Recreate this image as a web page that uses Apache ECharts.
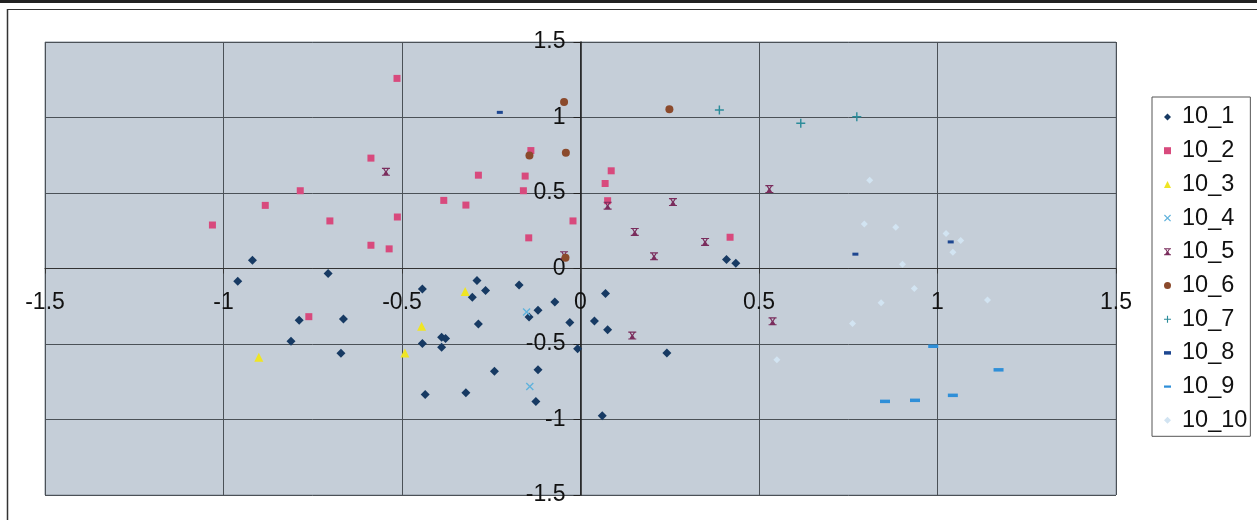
<!DOCTYPE html>
<html>
<head>
<meta charset="utf-8">
<script src="https://cdn.jsdelivr.net/npm/echarts@6/dist/echarts.min.js"></script>
<style>
html,body{margin:0;padding:0;background:#fff;}
#chart{width:1257px;height:520px;}
</style>
</head>
<body>
<div id="chart"></div>
<script>
const seriesNames = ['10_1','10_2','10_3','10_4','10_5','10_6','10_7','10_8','10_9','10_10'];
const axisTicks = [-1.5,-1,-0.5,0,0.5,1,1.5];

const s10_1 = [[-0.919,0.055],[-0.960,-0.084],[-0.707,-0.033],[-0.788,-0.343],[-0.664,-0.334],[-0.811,-0.482],[-0.671,-0.561],[-0.443,-0.136],[-0.290,-0.079],[-0.266,-0.145],[-0.303,-0.191],[-0.286,-0.367],[-0.389,-0.455],[-0.378,-0.464],[-0.443,-0.497],[-0.389,-0.521],[-0.241,-0.680],[-0.435,-0.834],[-0.321,-0.823],[-0.172,-0.110],[-0.072,-0.222],[-0.119,-0.277],[-0.144,-0.321],[-0.030,-0.358],[0.070,-0.165],[0.039,-0.348],[0.076,-0.405],[-0.008,-0.532],[0.242,-0.559],[-0.119,-0.671],[-0.125,-0.880],[0.061,-0.975],[0.409,0.059],[0.435,0.035]];
const s10_2 = [[-0.514,1.259],[-0.587,0.731],[-0.286,0.618],[-0.785,0.515],[-0.883,0.418],[-0.383,0.451],[-0.321,0.420],[-1.031,0.288],[-0.702,0.315],[-0.513,0.341],[-0.587,0.154],[-0.536,0.130],[-0.761,-0.319],[-0.139,0.781],[-0.155,0.612],[-0.160,0.515],[-0.021,0.315],[-0.145,0.203],[0.086,0.647],[0.069,0.563],[0.076,0.449],[0.419,0.207]];
const s10_3 = [[-0.901,-0.587],[-0.445,-0.383],[-0.492,-0.559],[-0.323,-0.152]];
const s10_4 = [[-0.151,-0.288],[-0.142,-0.781]];
const s10_5 = [[-0.545,0.640],[0.076,0.416],[0.259,0.440],[0.152,0.242],[0.349,0.176],[0.206,0.081],[-0.046,0.088],[0.529,0.526],[0.145,-0.444],[0.538,-0.350]];
const s10_6 = [[-0.046,1.102],[0.249,1.054],[-0.143,0.748],[-0.041,0.766],[-0.042,0.071]];
const s10_7 = [[0.389,1.050],[0.617,0.962],[0.774,1.005]];
const s10_8 = [[-0.226,1.034],[1.037,0.176],[0.770,0.095]];
const s10_9 = [[0.988,-0.515],[1.171,-0.671],[1.043,-0.840],[0.937,-0.873],[0.853,-0.880]];
const s10_10 = [[0.810,0.585],[0.795,0.295],[0.883,0.273],[1.024,0.231],[1.065,0.185],[1.043,0.108],[0.902,0.028],[0.935,-0.132],[0.842,-0.226],[1.140,-0.209],[0.762,-0.365],[0.550,-0.605]];

const seriesData = [s10_1,s10_2,s10_3,s10_4,s10_5,s10_6,s10_7,s10_8,s10_9,s10_10];

const X_PATH = 'path://M0,1.2L1.2,0L5,3.8L8.8,0L10,1.2L6.2,5L10,8.8L8.8,10L5,6.2L1.2,10L0,8.8L3.8,5Z';
const XBAR_PATH = 'path://M0,0H10V1.4H8.4L6.2,5L8.4,8.6H10V10H0V8.6H1.6L3.8,5L1.6,1.4H0Z M3.3,1.4L5,4.1L6.7,1.4Z M3.3,8.6L5,5.9L6.7,8.6Z';
const PLUS_PATH = 'path://M4.2,0H5.8V4.2H10V5.8H5.8V10H4.2V5.8H0V4.2H4.2Z';
const DASH_S = 'path://M0,0H6V3H0Z';
const DASH_L = 'path://M0,0H10V3.2H0Z';

const styles = [
  {symbol:'diamond', size:9, color:'#173a63'},
  {symbol:'rect', size:7, color:'#d84a7d'},
  {symbol:'triangle', size:9, color:'#efe524'},
  {symbol:X_PATH, size:8, color:'#5fb2dc'},
  {symbol:XBAR_PATH, size:8, color:'#7a2c5c'},
  {symbol:'circle', size:8, color:'#8b4a2c'},
  {symbol:PLUS_PATH, size:9, color:'#2c8c9a'},
  {symbol:'rect', size:[6,3], color:'#1d4690', icon:DASH_S},
  {symbol:'rect', size:[10,3.5], color:'#2f8fd8', icon:DASH_L},
  {symbol:'diamond', size:7, color:'#d2e4f2'}
];

const series = seriesNames.map((name,i)=>({
  name: name,
  type: 'scatter',
  data: seriesData[i],
  symbol: styles[i].symbol,
  symbolSize: styles[i].size,
  symbolKeepAspect: true,
  itemStyle: {color: styles[i].color, opacity: 1},
  emphasis: {disabled: true},
  z: 3
}));

const legendData = seriesNames.map((name,i)=> styles[i].icon ? {name:name, icon:styles[i].icon} : {name:name});

const GRID = {left:45, top:42, right:141, bottom:25};
const PLOT_W = 1257 - GRID.left - GRID.right;
const PLOT_H = 520 - GRID.top - GRID.bottom;

const chart = echarts.init(document.getElementById('chart'), null, {renderer:'canvas'});
const labelFont = {fontFamily:'"Liberation Sans", Arial, sans-serif', fontSize:23, color:'#111'};
chart.setOption({
  animation: false,
  backgroundColor: '#ffffff',
  grid: Object.assign({show:true, backgroundColor:'#c5ced8', borderColor:'#8d97a1', borderWidth:1, containLabel:false, outerBoundsMode:'none'}, GRID),
  xAxis: {
    type:'value', min:-1.5, max:1.5, interval:0.5,
    position:'bottom', offset: -PLOT_H/2,
    axisLine:{onZero:false, lineStyle:{color:'#333', width:1}},
    axisTick:{show:true, length:5, lineStyle:{color:'#333'}},
    splitLine:{show:true, lineStyle:{color:'#4b5157', width:1}},
    axisLabel:Object.assign({margin:23, formatter:(v)=>String(v), hideOverlap:false}, labelFont)
  },
  yAxis: {
    type:'value', min:-1.5, max:1.5, interval:0.5,
    position:'left', offset: -PLOT_W/2,
    axisLine:{onZero:false, lineStyle:{color:'#1e1e1e', width:1.5}},
    axisTick:{show:true, length:7, lineStyle:{color:'#222'}},
    splitLine:{show:true, lineStyle:{color:'#4b5157', width:1}},
    axisLabel:Object.assign({margin:15, formatter:(v)=>String(v), hideOverlap:false}, labelFont)
  },
  legend: {
    orient:'vertical', left:1152, top:97,
    padding:[8,3,4,12],
    itemWidth:7, itemHeight:7, itemGap:9.7,
    borderColor:'#555', borderWidth:1, backgroundColor:'#ffffff',
    textStyle:{fontFamily:'"Liberation Sans", Arial, sans-serif', fontSize:23.5, color:'#111', lineHeight:24, padding:[0,0,0,6]},
    data: legendData
  },
  graphic: [
    {type:'line', shape:{x1:0,y1:1.5,x2:1257,y2:1.5}, style:{stroke:'#222', lineWidth:3}, silent:true},
    {type:'line', shape:{x1:7,y1:9.5,x2:1257,y2:9.5}, style:{stroke:'#333', lineWidth:1.2}, silent:true},
    {type:'line', shape:{x1:7.5,y1:9,x2:7.5,y2:520}, style:{stroke:'#333', lineWidth:1.5}, silent:true}
  ],
  series: series
});
</script>
</body>
</html>
